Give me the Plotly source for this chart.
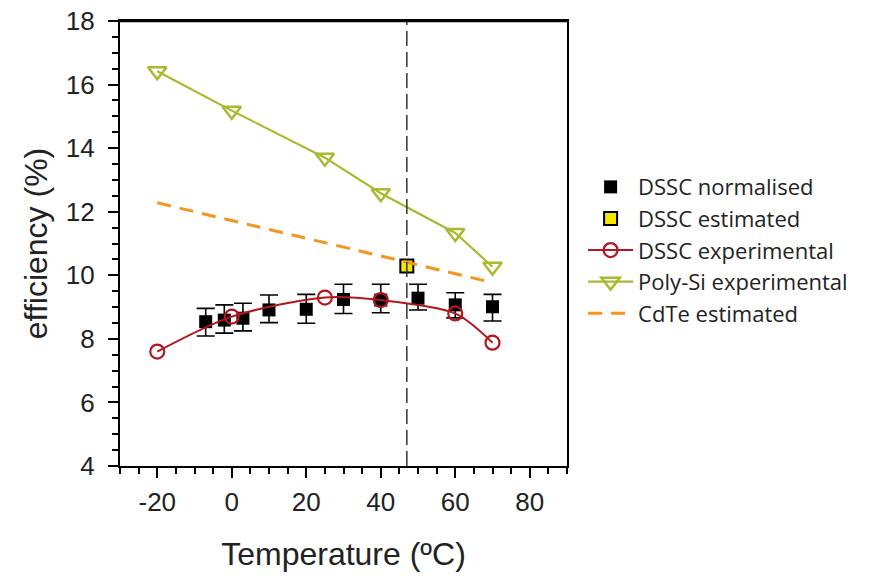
import plotly.graph_objects as go

# ---- data ----
norm_x = [-7, -2, 3, 10, 20, 30, 40, 50, 60, 70]
norm_y = [8.54, 8.59, 8.65, 8.91, 8.93, 9.24, 9.22, 9.28, 9.07, 9.01]
norm_err_plus = [0.42, 0.48, 0.47, 0.47, 0.47, 0.48, 0.50, 0.44, 0.38, 0.39]
norm_err_minus = [0.45, 0.41, 0.40, 0.40, 0.44, 0.44, 0.40, 0.37, 0.41, 0.45]

est_x = [47]
est_y = [10.29]

exp_x = [-20, 0, 25, 40, 60, 70]
exp_y = [7.60, 8.70, 9.30, 9.22, 8.80, 7.88]

polysi_x = [-20, 0, 25, 40, 60, 70]
polysi_y = [16.42, 15.18, 13.70, 12.58, 11.33, 10.27]

cdte_x = [-20, 70]
cdte_y = [12.28, 9.77]

vline_x = 47

x_ticks = [-20, 0, 20, 40, 60, 80]
y_ticks = [4, 6, 8, 10, 12, 14, 16, 18]

RED = "#B4161E"
GREEN = "#A8BA30"
ORANGE = "#F7941D"
YELLOW = "#F2E800"

fig = go.Figure()

fig.add_trace(go.Scatter(
    x=norm_x, y=norm_y, mode="markers", name="DSSC normalised",
    marker=dict(symbol="square", size=13, color="black"),
    error_y=dict(type="data", array=norm_err_plus, arrayminus=norm_err_minus,
                 color="black", thickness=1.6, width=9),
))
fig.add_trace(go.Scatter(
    x=est_x, y=est_y, mode="markers", name="DSSC estimated",
    marker=dict(symbol="square", size=13, color=YELLOW,
                line=dict(color="black", width=2)),
))
fig.add_trace(go.Scatter(
    x=exp_x, y=exp_y, mode="lines+markers", name="DSSC experimental",
    line=dict(color=RED, width=2, shape="spline", smoothing=0.8),
    marker=dict(symbol="circle-open", size=14, color=RED, line=dict(width=2.2)),
))
fig.add_trace(go.Scatter(
    x=polysi_x, y=polysi_y, mode="lines+markers", name="Poly-Si experimental",
    line=dict(color=GREEN, width=2.2),
    marker=dict(symbol="triangle-down-open", size=16, color=GREEN, line=dict(width=2.5)),
))
fig.add_trace(go.Scatter(
    x=cdte_x, y=cdte_y, mode="lines", name="CdTe estimated",
    line=dict(color=ORANGE, width=3, dash="14px,9px"),
))

fig.add_vline(x=vline_x, line=dict(color="#333333", width=1.5, dash="15px,6px"))
# plot frame top edge (explicit)
fig.add_shape(type="line", xref="paper", yref="paper", x0=0, y0=1, x1=1, y1=1,
              line=dict(color="black", width=2.6), layer="above")

axis_common = dict(
    showline=True, linecolor="black", linewidth=2.2, mirror=True,
    ticks="outside", ticklen=10, tickwidth=2, tickcolor="black",
    showgrid=False, zeroline=False, automargin=False,
    ticklabeloverflow="allow",
    tickfont=dict(family="Liberation Sans, Arial", size=26, color="#222"),
    title_font=dict(family="Liberation Sans, Arial", size=32, color="#222"),
)

fig.update_xaxes(
    range=[-30, 90], tickvals=x_ticks, ticktext=[str(v) for v in x_ticks],
    minor=dict(dtick=5, tick0=0, ticks="outside", ticklen=6, tickwidth=1.6, tickcolor="black"),
    title_text="Temperature (ºC)", title_standoff=26, ticklabelstandoff=2,
    **axis_common,
)
fig.update_yaxes(
    range=[4, 18], tickvals=y_ticks, ticktext=[str(v) for v in y_ticks],
    minor=dict(dtick=0.5, tick0=0, ticks="outside", ticklen=6, tickwidth=1.6, tickcolor="black"),
    title_text="efficiency (%)", title_standoff=9, ticklabelstandoff=8,
    **axis_common,
)

fig.update_layout(
    width=871, height=581,
    margin=dict(l=120, r=304, t=21, b=115),
    plot_bgcolor="white", paper_bgcolor="white",
    legend=dict(
        x=1.036, y=0.674, xanchor="left", yanchor="top",
        font=dict(family="Open Sans", size=22, color="#222"),
        bgcolor="rgba(0,0,0,0)", itemwidth=45, tracegroupgap=0,
    ),
    showlegend=True,
)

fig.write_html(
    "out.html",
    config={"displayModeBar": False},
    post_script="document.body.style.margin='0';document.body.style.overflow='hidden';",
)
